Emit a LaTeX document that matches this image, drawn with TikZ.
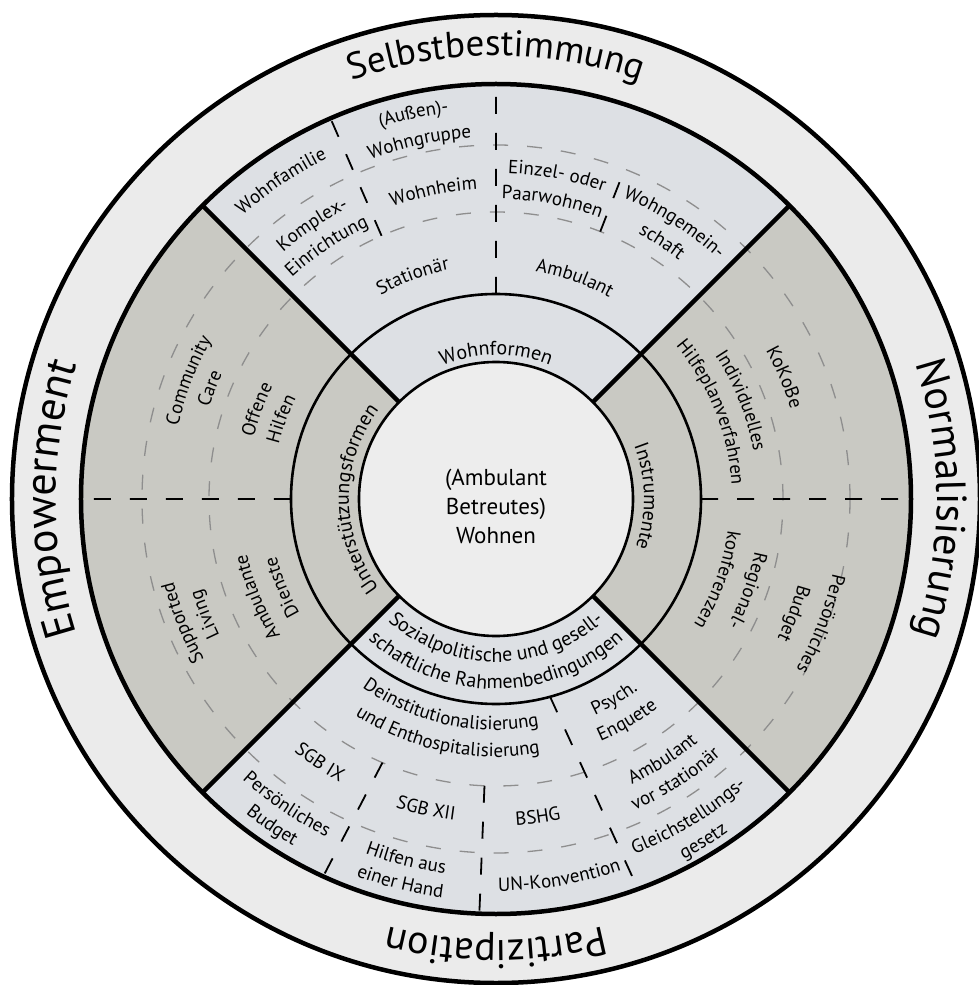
\documentclass[tikz,border=0pt]{standalone}
\usepackage{fontspec}
\setmainfont{PT Sans}
\usetikzlibrary{decorations.text}

\definecolor{ringgray}{HTML}{EBEBEB}
\definecolor{lightsec}{HTML}{DDE0E4}
\definecolor{darksec}{HTML}{C9C9C3}
\definecolor{corefill}{HTML}{EDEDED}
\definecolor{dashgray}{HTML}{8E8E8E}

\newcommand{\sectfont}{\fontsize{19}{23}\selectfont}
\newcommand{\ringfont}{\fontsize{20}{24}\selectfont}
\newcommand{\bigfont}[1]{\fontsize{#1}{#1}\selectfont}
\newcommand{\corefont}{\fontsize{23}{29}\selectfont}

\tikzset{
  arctext/.style={decorate, decoration={text along path, text align=center, text={#1}}},
  thickline/.style={line width=4.5pt},
  ringline/.style={line width=2.6pt},
  grayarc/.style={draw=dashgray, line width=1.3pt, dash pattern=on 15pt off 19pt},
  sepline/.style={line width=1.8pt, dash pattern=on 17pt off 19pt},
}

% text on an arc round the centre: angle, baseline radius, font, text
\newcommand{\cwlabel}[4]{\path[arctext={|#3|#4}] (#1+70:#2) arc[start angle=#1+70, end angle=#1-70, radius=#2];}
\newcommand{\ccwlabel}[4]{\path[arctext={|#3|#4}] (#1-70:#2) arc[start angle=#1-70, end angle=#1+70, radius=#2];}

\begin{document}
\begin{tikzpicture}[x=1pt, y=1pt]
    \useasboundingbox (-496,-486) rectangle (483,499);

    % outer ring
    \filldraw[fill=ringgray, thickline] (0,0) circle[radius=484];

    % the four sectors
    \foreach \a/\c in {45/lightsec, 135/darksec, 225/lightsec, 315/darksec}
      \fill[\c] (0,0) -- (\a:415) arc[start angle=\a, end angle=\a+90, radius=415] -- cycle;

    \draw[grayarc] (0,0) circle[radius=287];
    \draw[grayarc] (0,0) circle[radius=354];

    % separators
    \draw[sepline]
    (90:205) -- (90:415)
    (113.5:287) -- (113.5:415)
    (68.7:287) -- (68.7:354)
    (180:205) -- (180:415)
    (0:205) -- (0:415)
    (246.7:287) -- (245.4:415)
    (267.7:287) -- (267.7:415)
    (285.3:205) -- (290:415);

    \draw[thickline] (0,0) circle[radius=415];
    \draw[ringline] (0,0) circle[radius=205];
    \filldraw[fill=corefill, ringline] (0,0) circle[radius=137];

    \foreach \a in {45,135,225,315}
      \draw[thickline] (\a:137) -- (\a:415);

    \node[font=\corefont, align=center] (core) at (0,-7) {(Ambulant\\Betreutes)\\Wohnen};

    % ring
    \cwlabel{90}{144}{\ringfont}{Wohnformen}
    \cwlabel{1}{148}{\ringfont}{Instrumente}
    \cwlabel{180}{147}{\ringfont}{Unterstützungsformen}
    \ccwlabel{270}{163}{\ringfont}{Sozialpolitische und gesell-}
    \ccwlabel{270}{190}{\ringfont}{schaftliche Rahmenbedingungen}

    % top
    \cwlabel{110.5}{234}{\sectfont}{Stationär}
    \cwlabel{70.4}{231}{\sectfont}{Ambulant}
    \cwlabel{123.8}{326}{\sectfont}{Komplex-}
    \cwlabel{123.8}{301}{\sectfont}{Einrichtung}
    \cwlabel{101.5}{310}{\sectfont}{Wohnheim}
    \cwlabel{124.1}{380}{\sectfont}{Wohnfamilie}
    \cwlabel{102.1}{389}{\sectfont}{(Außen)-}
    \cwlabel{102.1}{362}{\sectfont}{Wohngruppe}
    \cwlabel{79.3}{326}{\sectfont}{Einzel- oder}
    \cwlabel{79.3}{300}{\sectfont}{Paarwohnen}
    \cwlabel{57.2}{327}{\sectfont}{Wohngemein-}
    \cwlabel{57.2}{301}{\sectfont}{schaft}

    % left
    \cwlabel{158.9}{326}{\sectfont}{Community}
    \cwlabel{158.9}{301}{\sectfont}{Care}
    \cwlabel{159.5}{250}{\sectfont}{Offene}
    \cwlabel{159.5}{224}{\sectfont}{Hilfen}
    \cwlabel{201.6}{333}{\sectfont}{Supported}
    \cwlabel{201.6}{308}{\sectfont}{Living}
    \cwlabel{202.4}{255}{\sectfont}{Ambulante}
    \cwlabel{202.4}{227}{\sectfont}{Dienste}

    % right
    \cwlabel{22.9}{308}{\sectfont}{KoKoBe}
    \cwlabel{21.9}{262}{\sectfont}{Individuelles}
    \cwlabel{21.9}{236}{\sectfont}{Hilfeplanverfahren}
    \cwlabel{-20}{264}{\sectfont}{Regional-}
    \cwlabel{-20}{234}{\sectfont}{konferenzen}
    \cwlabel{-21}{345}{\sectfont}{Persönliches}
    \cwlabel{-21}{314}{\sectfont}{Budget}

    % bottom
    \ccwlabel{257.7}{231}{\sectfont}{Deinstitutionalisierung}
    \ccwlabel{258.4}{258}{\sectfont}{und Enthospitalisierung}
    \ccwlabel{300.6}{238}{\sectfont}{Psych.}
    \ccwlabel{300.6}{264}{\sectfont}{Enquete}
    \ccwlabel{236.2}{323}{\sectfont}{SGB IX}
    \ccwlabel{257.3}{324}{\sectfont}{SGB XII}
    \ccwlabel{277.5}{327}{\sectfont}{BSHG}
    \ccwlabel{302.6}{316}{\sectfont}{Ambulant}
    \ccwlabel{302.6}{341}{\sectfont}{vor stationär}
    \ccwlabel{235.6}{378}{\sectfont}{Persönliches}
    \ccwlabel{235.6}{402}{\sectfont}{Budget}
    \ccwlabel{256}{378}{\sectfont}{Hilfen aus}
    \ccwlabel{256}{402}{\sectfont}{einer Hand}
    \ccwlabel{279.5}{392}{\sectfont}{UN-Konvention}
    \ccwlabel{301.2}{381}{\sectfont}{Gleichstellungs-}
    \ccwlabel{301.2}{406}{\sectfont}{gesetz}

    % outer ring
    \cwlabel{90}{443}{\bigfont{37}}{Selbstbestimmung}
    \cwlabel{0}{441}{\bigfont{42}}{Normalisierung}
    \cwlabel{270}{441}{\bigfont{40}}{Partizipation}
    \cwlabel{180}{440}{\bigfont{44}}{Empowerment}

  \end{tikzpicture}
\end{document}
